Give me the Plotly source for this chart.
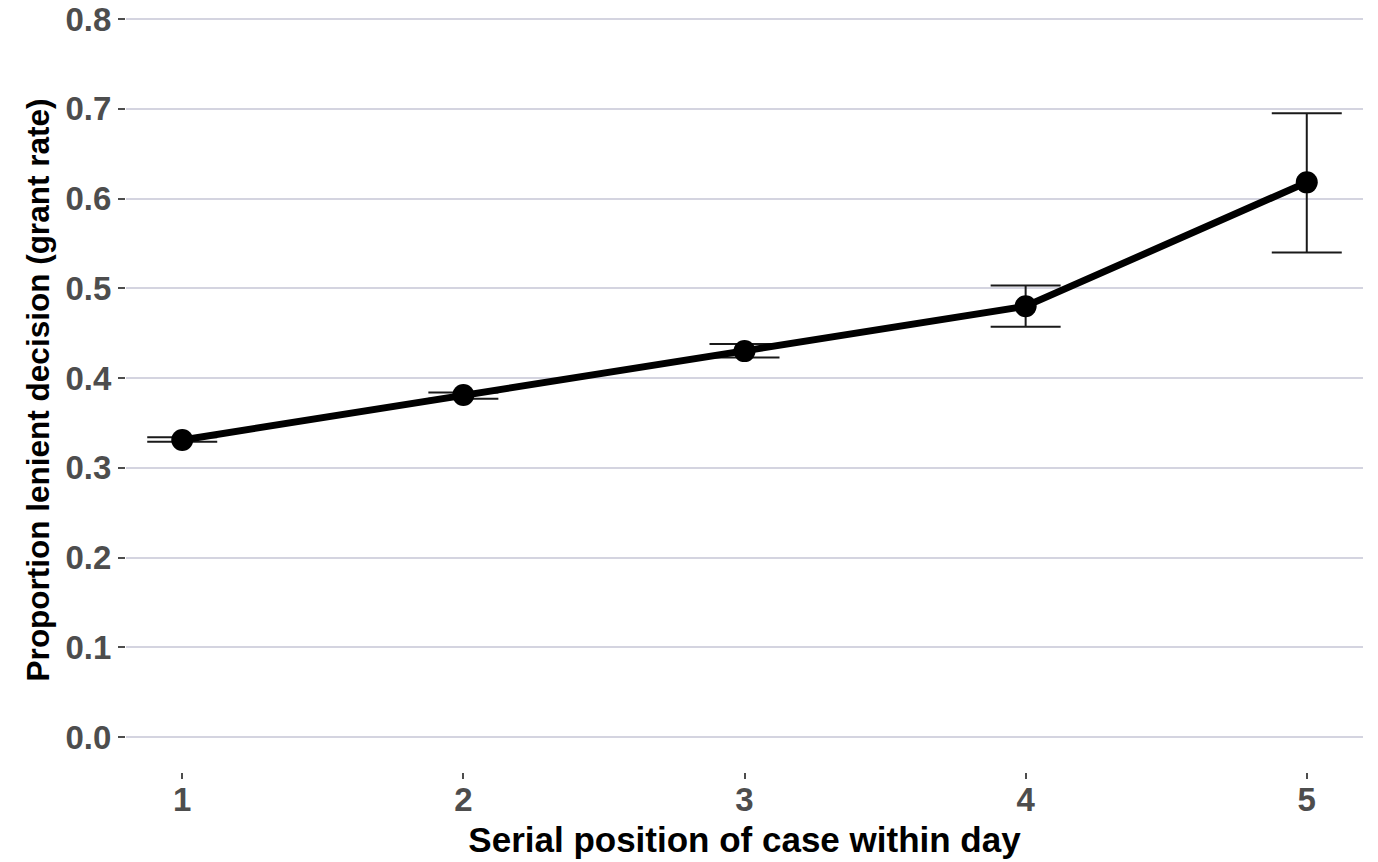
import plotly.graph_objects as go

positions = [1, 2, 3, 4, 5]
grant_rate = [0.331, 0.381, 0.430, 0.480, 0.618]
err_upper = [0.334, 0.384, 0.438, 0.503, 0.695]
err_lower = [0.329, 0.377, 0.423, 0.457, 0.540]
y_ticks = [0.0, 0.1, 0.2, 0.3, 0.4, 0.5, 0.6, 0.7, 0.8]

plus = [u - v for u, v in zip(err_upper, grant_rate)]
minus = [v - l for v, l in zip(grant_rate, err_lower)]

FONT = "Liberation Sans, Arial, sans-serif"

fig = go.Figure()
fig.add_trace(go.Scatter(
    x=positions, y=grant_rate, mode="lines+markers",
    line=dict(color="black", width=7),
    marker=dict(color="black", size=22),
    error_y=dict(type="data", symmetric=False, array=plus, arrayminus=minus,
                 color="#1a1a1a", thickness=2, width=35),
    showlegend=False,
))

fig.update_layout(
    width=1370, height=854,
    paper_bgcolor="white", plot_bgcolor="white",
    margin=dict(l=118, r=15, t=0, b=90),
    font=dict(family=FONT),
    xaxis=dict(
        range=[0.8, 5.2], tickvals=positions, ticktext=[str(p) for p in positions],
        showgrid=False, zeroline=False, showline=False, automargin=False,
        ticks="outside", ticklen=6, tickwidth=2, tickcolor="#4d4d4d",
        ticklabelstandoff=-8,
        tickfont=dict(size=33, color="#4d4d4d", family=FONT, weight="bold"),
        title=dict(text="<b>Serial position of case within day</b>",
                   font=dict(size=35, color="black", family=FONT), standoff=10),
    ),
    yaxis=dict(
        range=[-0.039, 0.8123], tickvals=y_ticks, ticktext=[f"{v:.1f}" for v in y_ticks],
        showgrid=True, gridcolor="#d4d4e0", gridwidth=2, zeroline=False, showline=False,
        automargin=False, ticklabeloverflow="allow",
        ticks="outside", ticklen=7, tickwidth=2, tickcolor="#4d4d4d",
        tickfont=dict(size=33, color="#4d4d4d", family=FONT, weight="bold"),
        title=dict(text="<b>Proportion lenient decision (grant rate)</b>",
                   font=dict(size=31.5, color="black", family=FONT), standoff=6),
    ),
)

fig.write_html("out.html")
